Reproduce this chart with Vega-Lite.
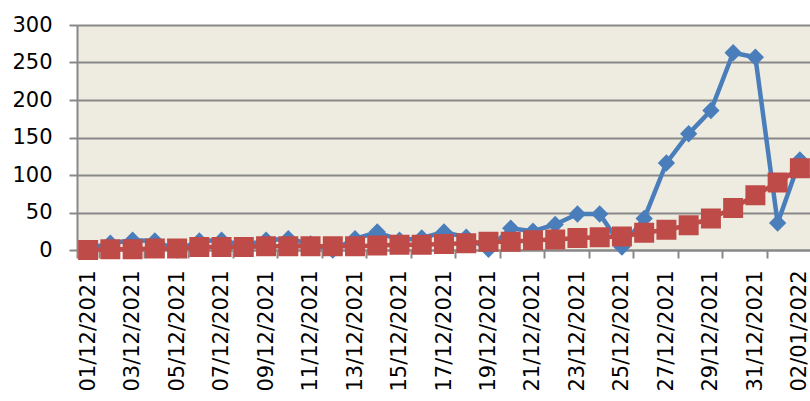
{
  "$schema": "https://vega.github.io/schema/vega-lite/v6.json",
  "autosize": {"type": "none"},
  "padding": {"left": 77, "top": 25, "right": 0, "bottom": 151},
  "width": 734,
  "height": 225,
  "background": "white",
  "config": {
    "view": {"fill": "#EEECE1", "stroke": null},
    "font": "DejaVu Sans"
  },
  "data": {
    "values": [
      {"date": "01/12/2021", "blue": 2, "red": 0},
      {"date": "02/12/2021", "blue": 9, "red": 1},
      {"date": "03/12/2021", "blue": 13, "red": 1},
      {"date": "04/12/2021", "blue": 12, "red": 2},
      {"date": "05/12/2021", "blue": 0, "red": 2},
      {"date": "06/12/2021", "blue": 12, "red": 4},
      {"date": "07/12/2021", "blue": 13, "red": 4},
      {"date": "08/12/2021", "blue": 6, "red": 4},
      {"date": "09/12/2021", "blue": 13, "red": 5},
      {"date": "10/12/2021", "blue": 15, "red": 5},
      {"date": "11/12/2021", "blue": 8, "red": 5},
      {"date": "12/12/2021", "blue": 0, "red": 5},
      {"date": "13/12/2021", "blue": 15, "red": 5},
      {"date": "14/12/2021", "blue": 24, "red": 6},
      {"date": "15/12/2021", "blue": 13, "red": 7},
      {"date": "16/12/2021", "blue": 16, "red": 7},
      {"date": "17/12/2021", "blue": 24, "red": 8},
      {"date": "18/12/2021", "blue": 17, "red": 9},
      {"date": "19/12/2021", "blue": 1, "red": 11},
      {"date": "20/12/2021", "blue": 29, "red": 11},
      {"date": "21/12/2021", "blue": 25, "red": 13},
      {"date": "22/12/2021", "blue": 34, "red": 14},
      {"date": "23/12/2021", "blue": 48, "red": 16},
      {"date": "24/12/2021", "blue": 48, "red": 17},
      {"date": "25/12/2021", "blue": 4, "red": 18},
      {"date": "26/12/2021", "blue": 42, "red": 23},
      {"date": "27/12/2021", "blue": 116, "red": 27},
      {"date": "28/12/2021", "blue": 155, "red": 33},
      {"date": "29/12/2021", "blue": 186, "red": 42},
      {"date": "30/12/2021", "blue": 263, "red": 56},
      {"date": "31/12/2021", "blue": 257, "red": 73},
      {"date": "01/01/2022", "blue": 36, "red": 90},
      {"date": "02/01/2022", "blue": 120, "red": 109}
    ]
  },
  "encoding": {
    "x": {
      "field": "date",
      "type": "ordinal",
      "sort": null,
      "scale": {"type": "band", "paddingInner": 0, "paddingOuter": 0},
      "axis": {
        "title": null,
        "values": ["01/12/2021", "03/12/2021", "05/12/2021", "07/12/2021", "09/12/2021", "11/12/2021", "13/12/2021", "15/12/2021", "17/12/2021", "19/12/2021", "21/12/2021", "23/12/2021", "25/12/2021", "27/12/2021", "29/12/2021", "31/12/2021", "02/01/2022"],
        "labelAngle": -90,
        "labelFontSize": 21,
        "labelFont": "DejaVu Sans",
        "labelColor": "#000000",
        "labelPadding": 12,
        "labelOverlap": false,
        "labelFlush": false,
        "tickBand": "extent",
        "tickSize": 8,
        "tickWidth": 2,
        "tickColor": "#888888",
        "domainColor": "#888888",
        "domainWidth": 2,
        "grid": false
      }
    }
  },
  "layer": [
    {
      "mark": {
        "type": "line",
        "color": "#4A7EBB",
        "strokeWidth": 4.5,
        "point": {"shape": "diamond", "size": 300, "filled": true, "color": "#4A7EBB", "opacity": 1}
      },
      "encoding": {
        "y": {
          "field": "blue",
          "type": "quantitative",
          "scale": {"domain": [0, 300], "nice": false, "zero": true},
          "axis": {
            "title": null,
            "values": [0, 50, 100, 150, 200, 250, 300],
            "labelFontSize": 21,
            "labelFont": "DejaVu Sans",
            "labelColor": "#000000",
            "labelPadding": 17,
            "labelOverlap": false,
            "labelFlush": false,
            "tickSize": 8,
            "tickWidth": 2,
            "tickColor": "#888888",
            "domainColor": "#888888",
            "domainWidth": 2,
            "grid": true,
            "gridColor": "#888888",
            "gridWidth": 2,
            "gridOpacity": 1
          }
        }
      }
    },
    {
      "mark": {
        "type": "line",
        "color": "#BE4B48",
        "strokeWidth": 4.5,
        "point": {"shape": "square", "size": 400, "filled": true, "color": "#BE4B48", "opacity": 1}
      },
      "encoding": {
        "y": {
          "field": "red",
          "type": "quantitative",
          "scale": {"domain": [0, 300], "nice": false, "zero": true},
          "axis": {
            "title": null,
            "values": [0, 50, 100, 150, 200, 250, 300],
            "labelFontSize": 21,
            "labelFont": "DejaVu Sans",
            "labelColor": "#000000",
            "labelPadding": 17,
            "labelOverlap": false,
            "labelFlush": false,
            "tickSize": 8,
            "tickWidth": 2,
            "tickColor": "#888888",
            "domainColor": "#888888",
            "domainWidth": 2,
            "grid": true,
            "gridColor": "#888888",
            "gridWidth": 2,
            "gridOpacity": 1
          }
        }
      }
    }
  ]
}
